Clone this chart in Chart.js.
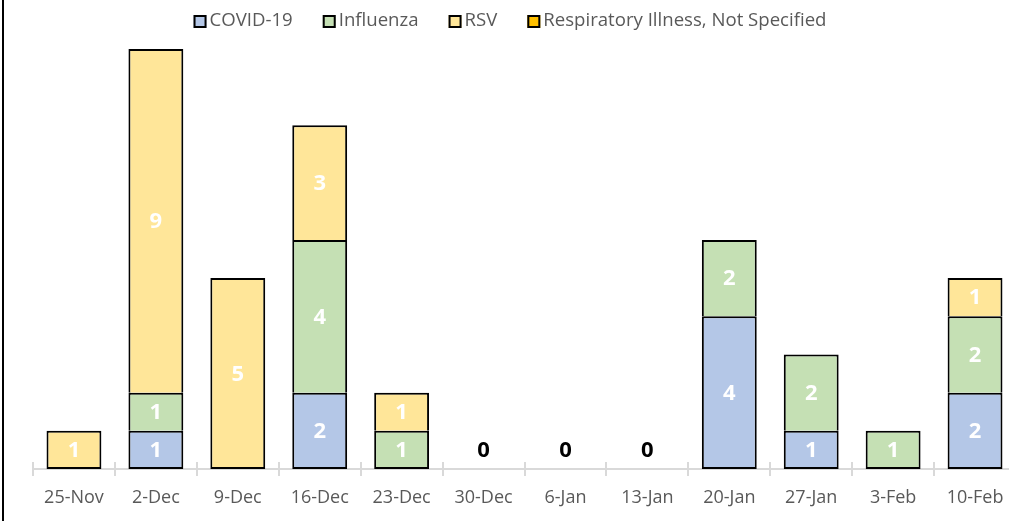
<!DOCTYPE html>
<html>
<head>
<meta charset="utf-8">
<script src="https://cdn.jsdelivr.net/npm/chart.js@4/dist/chart.umd.min.js"></script>
<style>
    html, body { margin: 0; padding: 0; background: #fff; overflow: hidden; }
    #wrap { position: absolute; left: 0; top: 0; width: 1030px; height: 521px; }
    #edge { position: absolute; left: 2px; top: 0; width: 2px; height: 521px; background: #000; }
</style>
</head>
<body>
<div id="wrap"><canvas id="respChart"></canvas></div>
<div id="edge"></div>
<script>
/*
|--------------------------------------------------------------------------
| Respiratory outbreaks by week
|--------------------------------------------------------------------------
*/

var weeks = ["25-Nov", "2-Dec", "9-Dec", "16-Dec", "23-Dec", "30-Dec", "6-Jan", "13-Jan", "20-Jan", "27-Jan", "3-Feb", "10-Feb"];
var covid = [0, 1, 0, 2, 0, 0, 0, 0, 4, 1, 0, 2];
var influenza = [0, 1, 0, 4, 1, 0, 0, 0, 2, 2, 1, 2];
var rsv = [1, 9, 5, 3, 1, 0, 0, 0, 0, 0, 0, 1];
var notSpecified = [0, 0, 0, 0, 0, 0, 0, 0, 0, 0, 0, 0];
var yMax = 11;

var FONT = "'Open Sans', 'Noto Sans', sans-serif";

// one shared 2px line between stacked segments: only the lowest segment gets a bottom edge
function segBorder(c) {
    if (!c.raw) return 0;
    var sets = c.chart.data.datasets, below = false;
    for (var k = 0; k < c.datasetIndex; k++) {
        if (sets[k].data[c.dataIndex]) below = true;
    }
    return { top: 2, left: 2, right: 2, bottom: below ? 0 : 2 };
}

function barSet(label, data, color) {
    return {
        label: label,
        data: data,
        backgroundColor: color,
        borderColor: "#000",
        borderWidth: segBorder,
        borderSkipped: false,
        inflateAmount: 0,
        categoryPercentage: 1,
        barPercentage: 0.67
    };
}

// white numbers inside the segments, black "0" for empty weeks
var segmentLabels = {
    id: 'segmentLabels',
    afterDatasetsDraw: function (chart) {
        var ctx = chart.ctx;
        ctx.save();
        ctx.font = "bold 22px " + FONT;
        ctx.textAlign = "center";
        ctx.textBaseline = "middle";
        chart.data.datasets.forEach(function (ds, i) {
            chart.getDatasetMeta(i).data.forEach(function (bar, j) {
                if (!ds.data[j]) return;
                ctx.fillStyle = "#fff";
                ctx.fillText(ds.data[j], bar.x, (bar.y + bar.base) / 2 + 1);
            });
        });
        var x = chart.scales.x, y = chart.scales.y;
        weeks.forEach(function (w, j) {
            var total = 0;
            chart.data.datasets.forEach(function (ds) { total += ds.data[j]; });
            if (total === 0) {
                ctx.fillStyle = "#000";
                ctx.fillText("0", x.getPixelForValue(j), y.getPixelForValue(0) - 18);
            }
        });
        ctx.restore();
    }
};

// tick marks crossing the axis line at the category boundaries
var axisTicks = {
    id: 'axisTicks',
    beforeDatasetsDraw: function (chart) {
        var ctx = chart.ctx, x = chart.scales.x, base = chart.chartArea.bottom;
        var step = x.width / weeks.length;
        ctx.save();
        ctx.strokeStyle = "#d9d9d9";
        ctx.lineWidth = 2;
        for (var i = 0; i <= weeks.length; i++) {
            var px = Math.round(x.left + i * step);
            ctx.beginPath();
            ctx.moveTo(px, base - 7);
            ctx.lineTo(px, base + 7);
            ctx.stroke();
        }
        ctx.restore();
    }
};

var topLegend = {
    id: 'topLegend',
    afterDraw: function (chart) {
        var ctx = chart.ctx, gap = 30, box = 13, cy = 21;
        ctx.save();
        ctx.font = "18.6px " + FONT;
        ctx.textBaseline = "middle";
        var sets = chart.data.datasets;
        var widths = sets.map(function (ds) { return box + 3 + ctx.measureText(ds.label).width; });
        var total = widths.reduce(function (a, b) { return a + b; }, 0) + gap * (sets.length - 1);
        var px = 510 - total / 2;
        sets.forEach(function (ds, i) {
            ctx.fillStyle = ds.backgroundColor;
            ctx.fillRect(px, cy - 6, box, box);
            ctx.strokeStyle = "#000";
            ctx.lineWidth = 2;
            ctx.strokeRect(px + 1, cy - 5, box - 2, box - 2);
            ctx.fillStyle = "#595959";
            ctx.fillText(ds.label, px + box + 3, cy);
            px += widths[i] + gap;
        });
        ctx.restore();
    }
};

var ctx = document.getElementById("respChart").getContext("2d");
window.respChart = new Chart(ctx, {
    type: 'bar',
    data: {
        labels: weeks,
        datasets: [
            barSet("COVID-19", covid, "#B4C7E7"),
            barSet("Influenza", influenza, "#C5E0B4"),
            barSet("RSV", rsv, "#FFE699"),
            barSet("Respiratory Illness, Not Specified", notSpecified, "#FFC000")
        ]
    },
    options: {
        responsive: true,
        maintainAspectRatio: false,
        animation: false,
        layout: { padding: { left: 33, right: 14, top: 49, bottom: 0 } },
        plugins: {
            legend: { display: false },
            tooltip: { enabled: false }
        },
        scales: {
            x: {
                stacked: true,
                grid: { display: false },
                border: { display: true, color: "#d9d9d9", width: 2 },
                ticks: { color: "#595959", padding: 10, font: { family: FONT, size: 18 } },
                afterFit: function (scale) { scale.height = 52; }
            },
            y: {
                stacked: true,
                display: false,
                min: 0,
                max: yMax
            }
        }
    },
    plugins: [axisTicks, segmentLabels, topLegend]
});
</script>
</body>
</html>
